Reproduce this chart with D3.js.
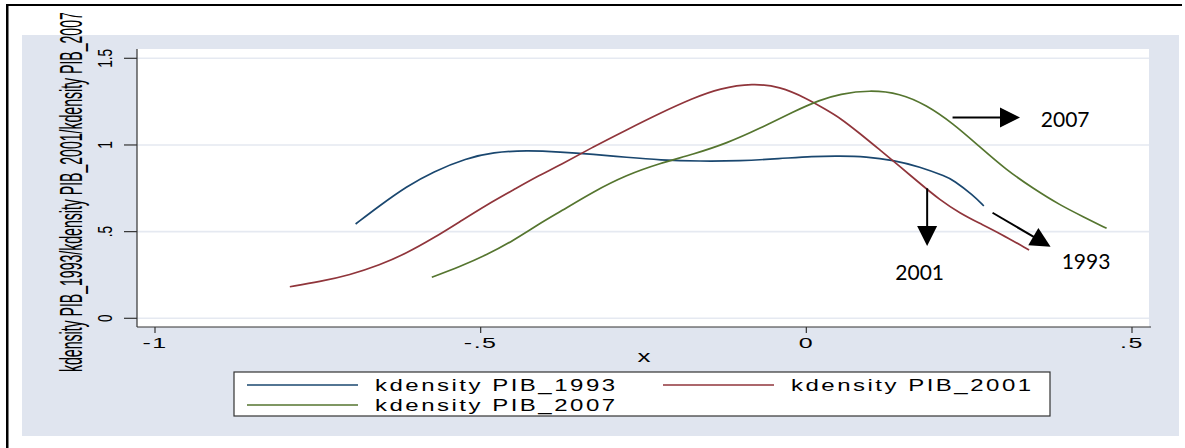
<!DOCTYPE html>
<html>
<head>
<meta charset="utf-8">
<script src="https://cdn.jsdelivr.net/npm/d3@7"></script>
<style>
  html, body { margin: 0; padding: 0; background: #ffffff; }
  svg { display: block; }
</style>
</head>
<body>
<svg id="chart" width="1185" height="448"></svg>
<script>
// ---------------- data ----------------
const seriesNames = ["kdensity PIB_1993", "kdensity PIB_2001", "kdensity PIB_2007"];

const x1993 = [-0.692, -0.655, -0.614, -0.573, -0.522, -0.481, -0.429, -0.378, -0.327, -0.276, -0.225, -0.163, -0.102, -0.041, 0.010, 0.051, 0.092, 0.133, 0.174, 0.215, 0.2253, 0.256, 0.2725];
const d1993 = [0.544, 0.650, 0.760, 0.846, 0.923, 0.958, 0.969, 0.960, 0.946, 0.929, 0.913, 0.906, 0.908, 0.921, 0.935, 0.937, 0.933, 0.913, 0.875, 0.817, 0.798, 0.711, 0.648];

const x2001 = [-0.793, -0.747, -0.701, -0.655, -0.614, -0.573, -0.532, -0.491, -0.450, -0.409, -0.378, -0.327, -0.276, -0.225, -0.174, -0.133, -0.082, -0.041, 0.000, 0.031, 0.051, 0.082, 0.113, 0.144, 0.174, 0.205, 0.236, 0.266, 0.297, 0.342];
const d2001 = [0.182, 0.211, 0.250, 0.307, 0.375, 0.461, 0.557, 0.654, 0.740, 0.827, 0.883, 0.990, 1.087, 1.183, 1.270, 1.327, 1.356, 1.337, 1.270, 1.202, 1.158, 1.067, 0.971, 0.875, 0.779, 0.683, 0.606, 0.548, 0.490, 0.394];

const x2007 = [-0.575, -0.532, -0.491, -0.450, -0.409, -0.378, -0.327, -0.276, -0.225, -0.174, -0.122, -0.071, -0.020, 0.021, 0.051, 0.097, 0.144, 0.184, 0.225, 0.266, 0.307, 0.348, 0.389, 0.425, 0.461];
const d2007 = [0.237, 0.298, 0.365, 0.448, 0.548, 0.615, 0.731, 0.827, 0.894, 0.946, 1.010, 1.096, 1.192, 1.260, 1.294, 1.317, 1.298, 1.231, 1.125, 0.990, 0.856, 0.750, 0.654, 0.586, 0.519];

const xTicks = [-1, -0.5, 0, 0.5];
const xTickLabels = ["-1", "-.5", "0", ".5"];
const yTicks = [0, 0.5, 1, 1.5];
const yTickLabels = ["0", ".5", "1", "1.5"];
const yTitle = "kdensity PIB_1993/kdensity PIB_2001/kdensity PIB_2007";
const xTitle = "x";

// annotations (data units): arrow from -> to, label position
const annLabels = ["2007", "2001", "1993"];
const annFrom = [[0.2245, 1.158], [0.1855, 0.750], [0.2859, 0.609]];
const annTo   = [[0.328, 1.158], [0.1855, 0.417], [0.375, 0.413]];
const annText = [[0.360, 1.104], [0.174, 0.221], [0.392, 0.284]];
const annAnchor = ["start", "middle", "start"];

// ---------------- layout ----------------
const colors = ["#1a476f", "#90353b", "#55752f"];
const svg = d3.select("#chart");

const plotL = 137, plotR = 1149, plotT = 49, plotB = 327;
const x = d3.scaleLinear().domain([-1, 0.5]).range([155, 1132]);
const y = d3.scaleLinear().domain([0, 1.5]).range([318.3, 58.3]);

// outer frame (top + left only)
svg.append("rect").attr("x", 6).attr("y", 4).attr("width", 1176).attr("height", 2).attr("fill", "#000");
svg.append("rect").attr("x", 6).attr("y", 4).attr("width", 2.5).attr("height", 444).attr("fill", "#000");

// graph region background
svg.append("rect").attr("x", 22).attr("y", 35).attr("width", 1157).attr("height", 401).attr("fill", "#e0e5ef");

// plot region
svg.append("rect").attr("x", plotL).attr("y", plotT).attr("width", plotR - plotL).attr("height", plotB - plotT).attr("fill", "#ffffff");

// gridlines
svg.append("g").selectAll("line").data(yTicks).join("line")
  .attr("x1", plotL).attr("x2", plotR)
  .attr("y1", d => y(d)).attr("y2", d => y(d))
  .attr("stroke", "#e5e9f1").attr("stroke-width", 1.6);

// axes lines
svg.append("line").attr("x1", plotL).attr("x2", plotL).attr("y1", plotT).attr("y2", plotB)
  .attr("stroke", "#333").attr("stroke-width", 1.2);
svg.append("line").attr("x1", plotL).attr("x2", 1151).attr("y1", plotB).attr("y2", plotB)
  .attr("stroke", "#333").attr("stroke-width", 1.2);

// y ticks & labels
const yt = svg.append("g");
yt.selectAll("line").data(yTicks).join("line")
  .attr("x1", 124).attr("x2", plotL)
  .attr("y1", d => y(d)).attr("y2", d => y(d))
  .attr("stroke", "#333").attr("stroke-width", 1.2);
yt.selectAll("text").data(yTicks).join("text")
  .attr("transform", d => `translate(112,${y(d)}) rotate(-90) scale(0.65,1)`)
  .attr("text-anchor", "middle")
  .attr("font-family", "Liberation Sans, Arial, sans-serif")
  .attr("font-size", 21)
  .attr("fill", "#000")
  .text((d, i) => yTickLabels[i]);

// x ticks & labels
const xt = svg.append("g");
xt.selectAll("line").data(xTicks).join("line")
  .attr("x1", d => x(d)).attr("x2", d => x(d))
  .attr("y1", plotB).attr("y2", plotB + 6)
  .attr("stroke", "#333").attr("stroke-width", 1.2);
xt.selectAll("text").data(xTicks).join("text")
  .attr("transform", d => `translate(${x(d)},348) scale(1,0.62)`)
  .attr("text-anchor", "middle")
  .attr("font-family", "Liberation Sans, Arial, sans-serif")
  .attr("font-size", 25)
  .attr("letter-spacing", 1.5)
  .attr("fill", "#000")
  .text((d, i) => xTickLabels[i]);

// axis titles
svg.append("text")
  .attr("transform", `translate(644,361.5) scale(1,0.6)`)
  .attr("text-anchor", "middle")
  .attr("font-family", "Liberation Sans, Arial, sans-serif")
  .attr("font-size", 26)
  .attr("fill", "#000")
  .text(xTitle);

const yTitleEl = svg.append("text")
  .attr("text-anchor", "start")
  .attr("font-family", "Liberation Sans, Arial, sans-serif")
  .attr("font-size", 31)
  .attr("fill", "#000")
  .text(yTitle);
const natLen = yTitleEl.node().getComputedTextLength();
const targetLen = 360;
yTitleEl.attr("transform", `translate(82,372) rotate(-90) scale(${targetLen / natLen},1)`);

// curves
const series = [
  { name: seriesNames[0], xs: x1993, ds: d1993, color: colors[0] },
  { name: seriesNames[1], xs: x2001, ds: d2001, color: colors[1] },
  { name: seriesNames[2], xs: x2007, ds: d2007, color: colors[2] }
];
const line = d3.line().x(p => x(p[0])).y(p => y(p[1])).curve(d3.curveBasis);
svg.append("g").selectAll("path").data(series).join("path")
  .attr("d", s => line(s.xs.map((v, i) => [v, s.ds[i]])))
  .attr("fill", "none")
  .attr("stroke", s => s.color)
  .attr("stroke-width", 1.7)
  .attr("stroke-linejoin", "round");

// annotations
const ann = svg.append("g");
annLabels.forEach((lab, i) => {
  const x0 = x(annFrom[i][0]), y0 = y(annFrom[i][1]);
  const x1 = x(annTo[i][0]), y1 = y(annTo[i][1]);
  const dx = x1 - x0, dy = y1 - y0, len = Math.hypot(dx, dy);
  const ux = dx / len, uy = dy / len;
  const hl = 20, hw = 10;
  const bx = x1 - ux * hl, by = y1 - uy * hl;
  ann.append("line").attr("x1", x0).attr("y1", y0).attr("x2", bx + ux * 2).attr("y2", by + uy * 2)
    .attr("stroke", "#000").attr("stroke-width", 2);
  ann.append("polygon")
    .attr("points", [[x1, y1], [bx - uy * hw, by + ux * hw], [bx + uy * hw, by - ux * hw]].map(p => p.join(",")).join(" "))
    .attr("fill", "#000");
  ann.append("text")
    .attr("x", x(annText[i][0])).attr("y", y(annText[i][1]))
    .attr("text-anchor", annAnchor[i])
    .attr("font-family", "Lato, 'Open Sans', sans-serif")
    .attr("font-size", 21)
    .attr("fill", "#000")
    .text(lab);
});

// legend
const lg = svg.append("g");
lg.append("rect").attr("x", 234).attr("y", 372).attr("width", 816).attr("height", 44)
  .attr("fill", "#ffffff").attr("stroke", "#333").attr("stroke-width", 1.2);
const legendItems = [
  { s: series[0], lx: 247, ly: 385, tx: 375, ty: 390.5 },
  { s: series[1], lx: 663, ly: 385, tx: 791, ty: 390.5 },
  { s: series[2], lx: 247, ly: 405, tx: 375, ty: 411 }
];
legendItems.forEach(it => {
  lg.append("line").attr("x1", it.lx).attr("x2", it.lx + 111).attr("y1", it.ly).attr("y2", it.ly)
    .attr("stroke", it.s.color).attr("stroke-width", 1.5);
  lg.append("text")
    .attr("transform", `translate(${it.tx},${it.ty}) scale(1,0.65)`)
    .attr("font-family", "Liberation Sans, Arial, sans-serif")
    .attr("font-size", 24)
    .attr("letter-spacing", 2.5)
    .attr("fill", "#000")
    .text(it.s.name);
});
</script>
</body>
</html>
